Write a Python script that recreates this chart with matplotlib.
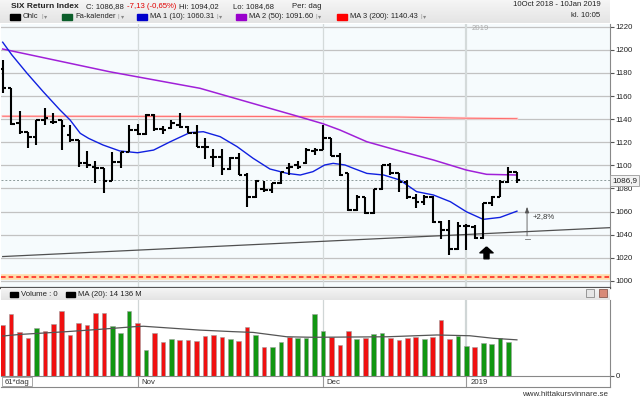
import numpy as np
import matplotlib
matplotlib.use('Agg')
import matplotlib.pyplot as plt
from matplotlib.colors import LinearSegmentedColormap
from matplotlib.patches import Rectangle
from matplotlib.path import Path

plt.rcParams['font.family'] = ['Liberation Sans', 'DejaVu Sans']

# Daily OHLC, 10 Oct 2018 - 10 Jan 2019 (bar index 0..61)
opens = [1183.0, 1166.6, 1136.3, 1128.5, 1124.8, 1139.2, 1137.8, 1139.2, 1126.2, 1121.9,
         1101.7, 1098.8, 1097.4, 1086.4, 1102.6, 1111.8, 1130.6, 1126.8, 1143.5, 1131.4,
         1132.0, 1134.9, 1133.5, 1128.3, 1116.2, 1107.5, 1106.9, 1096.5, 1106.1, 1091.6,
         1072.3, 1079.2, 1078.6, 1084.4, 1097.4, 1100.3, 1101.7, 1112.7, 1113.3, 1123.4,
         1108.1, 1093.0, 1061.3, 1072.3, 1058.4, 1079.2, 1100.3, 1093.0, 1085.8, 1071.4,
         1068.5, 1072.8, 1051.2, 1044.0, 1027.2, 1047.4, 1046.9, 1036.8, 1067.1, 1072.8,
         1085.6, 1094.0]
highs = [1191.2, 1166.9, 1147.0, 1129.1, 1139.2, 1149.3, 1145.0, 1139.5, 1134.9, 1122.2,
         1112.4, 1103.7, 1097.6, 1111.8, 1111.8, 1134.9, 1135.5, 1144.1, 1144.1, 1134.3,
         1139.2, 1145.0, 1134.0, 1134.9, 1123.4, 1113.8, 1113.8, 1107.5, 1111.0, 1093.1,
         1087.3, 1086.7, 1085.0, 1094.5, 1102.3, 1104.0, 1114.7, 1114.7, 1134.9, 1123.6,
         1110.4, 1093.2, 1074.3, 1072.8, 1079.2, 1100.3, 1102.3, 1093.6, 1087.3, 1075.0,
         1074.3, 1073.4, 1051.4, 1052.6, 1051.2, 1048.8, 1048.3, 1067.8, 1073.4, 1087.5,
         1098.8, 1094.0]
lows = [1162.3, 1134.9, 1127.1, 1115.3, 1117.6, 1134.9, 1135.5, 1113.2, 1119.9, 1098.8,
        1097.4, 1084.4, 1075.7, 1086.2, 1097.4, 1111.2, 1126.2, 1126.5, 1129.7, 1126.8,
        1131.4, 1132.0, 1127.7, 1115.6, 1105.2, 1098.8, 1091.6, 1096.2, 1091.6, 1064.2,
        1071.4, 1077.2, 1075.8, 1084.2, 1091.6, 1096.5, 1101.5, 1108.9, 1113.1, 1108.1,
        1090.8, 1060.7, 1060.7, 1057.8, 1058.2, 1078.6, 1091.6, 1077.2, 1071.0, 1062.8,
        1065.6, 1049.7, 1036.0, 1022.3, 1026.7, 1026.7, 1035.9, 1036.6, 1065.0, 1072.6,
        1084.4, 1084.7]
closes = [1166.6, 1135.8, 1128.5, 1124.8, 1139.2, 1140.7, 1137.8, 1134.0, 1121.9, 1101.7,
          1100.3, 1097.4, 1086.4, 1102.6, 1111.8, 1130.6, 1126.8, 1143.5, 1131.4, 1131.0,
          1136.4, 1133.5, 1128.3, 1116.2, 1115.6, 1106.9, 1096.5, 1106.1, 1091.8, 1072.3,
          1086.7, 1078.6, 1084.4, 1093.9, 1098.3, 1098.8, 1113.3, 1113.3, 1123.4, 1108.3,
          1091.6, 1061.3, 1072.3, 1058.4, 1079.2, 1100.3, 1093.0, 1085.8, 1072.8, 1068.5,
          1072.8, 1051.2, 1044.0, 1027.2, 1047.4, 1047.8, 1036.8, 1067.1, 1072.8, 1085.6,
          1094.0, 1086.9]

# volume in M, last day not reported yet
volume = [19900, 24100, 17000, 14700, 18600, 17700, 20200, 25500, 16100, 20600,
          19900, 24500, 24700, 19500, 16900, 25500, 20600, 10100, 16700, 13400,
          14300, 14000, 13900, 13700, 15600, 16100, 15300, 14500, 13700, 19000,
          15900, 11400, 11200, 13300, 15300, 14700, 14700, 24200, 17700, 15300,
          12000, 17400, 14300, 14700, 16400, 16900, 14700, 14000, 14700, 15300,
          14300, 15200, 21800, 14300, 15600, 11700, 11400, 12800, 12500, 14700,
          13400, 0]
vol_up = 'rrrrgrrrrrrrrgggrgrrgrrrrrrgrrgrggrggggrrrgrggrrrrgrrrggrgggg'

# moving averages (bar index, value)
ma10_x = [0, 1.1, 2.9, 4.8, 6.8, 8.0, 9.2, 10.2, 11.9, 13.9, 16.0, 17.9, 19.9, 22.2, 23.8,
          25.8, 27.8, 29.7, 31.7, 33.7, 35.3, 36.8, 38.2, 39.2, 40.6, 41.6, 43.2, 45.2,
          47.1, 49.1, 51.1, 53.1, 55.0, 57.0, 59.0, 61.0]
ma10_y = [1206.6, 1195.5, 1179.6, 1163.8, 1147.9, 1139.2, 1127.7, 1123.3, 1117.6, 1112.4,
          1110.9, 1113.2, 1120.5, 1128.3, 1129.1, 1124.8, 1116.2, 1106.1, 1096.8, 1093.1,
          1091.6, 1094.5, 1100.3, 1101.7, 1100.3, 1097.4, 1093.0, 1091.6, 1087.3, 1077.2,
          1074.3, 1068.5, 1059.8, 1053.2, 1054.9, 1060.3]
ma50_x = [0, 12.7, 23.4, 32.1, 34.5, 38.0, 40.0, 43.2, 47.1, 51.1, 55.0, 57.4, 61.0]
ma50_y = [1200.7, 1181.0, 1166.7, 1148.5, 1143.5, 1136.0, 1130.6, 1120.4, 1112.4, 1104.6,
          1095.9, 1092.2, 1091.6]
ma200_x = [0, 30, 47, 55, 61]
ma200_y = [1142.5, 1142.3, 1141.8, 1140.8, 1140.4]
vma_x = [0, 2.0, 7.6, 11.5, 15.5, 16.7, 23.4, 27.3, 29.7, 33.7, 36.8, 45.6, 51.5, 55.4, 58.2, 61.0]
vma_y = [15600, 16200, 17300, 18200, 19200, 19400, 17900, 17300, 17000, 15300, 15100, 15300,
         16000, 15700, 14700, 14100]

trend_x = [0, 72]
trend_y = [1021.0, 1046.0]

month_idx = [16, 38, 55]
month_labels = ['Nov', 'Dec', '2019']

idx = np.arange(len(closes))
W, H = 640.0, 398.0
XL = (-0.2, 72.04)


def box(x0, y0, x1, y1):
    return [x0 / W, 1 - y1 / H, (x1 - x0) / W, (y1 - y0) / H]


fig = plt.figure(figsize=(6.4, 3.98), dpi=100)
fig.patch.set_facecolor('white')
FS = 5.6

# ---- header ----
hax = fig.add_axes(box(0, 0, 610, 23.5))
grad = LinearSegmentedColormap.from_list('g', ['#f6f6f6', '#e4e4e4'])
hax.imshow(np.linspace(0, 1, 50)[:, None], cmap=grad, aspect='auto', extent=[0, 610, 23.5, 0])
hax.set_xlim(0, 610)
hax.set_ylim(23.5, 0)
hax.axis('off')
hax.text(11, 6.5, 'SIX Return Index', fontsize=6.0, fontweight='bold', va='center', color='#222')
hax.text(86, 6.5, 'C: 1086,88', fontsize=FS, va='center', color='#222')
hax.text(127, 6.5, '-7,13 (-0,65%)', fontsize=FS, va='center', color='#e00000')
hax.text(179, 6.5, 'Hi: 1094,02', fontsize=FS, va='center', color='#222')
hax.text(233, 6.5, 'Lo: 1084,68', fontsize=FS, va='center', color='#222')
hax.text(292, 6.5, 'Per: dag', fontsize=FS, va='center', color='#222')
hax.text(601, 5, '10Oct 2018 - 10Jan 2019', fontsize=FS, va='center', ha='right', color='#222')
hax.text(600, 15.5, 'kl. 10:05', fontsize=FS, va='center', ha='right', color='#222')

renderer = fig.canvas.get_renderer()
inv = hax.transData.inverted()
legend_items = [(10, 'black', 'Ohlc'), (62, '#0b5e2a', 'Fa-kalender'),
                (137, '#0000cc', 'MA 1 (10): 1060.31'), (236, '#9900cc', 'MA 2 (50): 1091.60'),
                (337, '#ff0000', 'MA 3 (200): 1140.43')]
for sx, col, lab in legend_items:
    hax.add_patch(Rectangle((sx, 14), 10, 5.5, color=col))
    t = hax.text(sx + 13, 16.7, lab, fontsize=5.4, va='center', color='#222')
    x1 = inv.transform(t.get_window_extent(renderer).get_points())[1][0]
    hax.text(x1 + 2.5, 16.5, '|', fontsize=4.5, va='center', color='#999')
    hax.text(x1 + 5, 16.8, '\u25be', fontsize=4.5, va='center', color='#888', family='DejaVu Sans')

# ---- main price panel ----
ax = fig.add_axes(box(1, 23.5, 610, 287.5))
ax.set_facecolor('#f6fbfd')
ax.set_xlim(*XL)
ax.set_ylim(994.2, 1222.8)
ax.set_yticks(range(1000, 1221, 20))
ax.yaxis.tick_right()
ax.tick_params(axis='y', length=3, pad=1, labelsize=FS, colors='#555', labelcolor='#222')
ax.set_xticks([])
ax.yaxis.grid(True, color='#c2c2c2', lw=0.9)
ax.set_axisbelow(True)
for s in ['top', 'left']:
    ax.spines[s].set_visible(False)
ax.spines['right'].set_color('#888')
ax.spines['bottom'].set_color('#555')
ax.spines['bottom'].set_linewidth(1.6)

for m in month_idx:
    ax.axvline(m, color='#d4dada', lw=1.6 if m == 55 else 0.9, zorder=1)
ax.text(55.6, 1218.5, '2019', fontsize=FS, color='#aaaaaa', va='center')

ax.axhline(1003.6, color='#ffdcaa', lw=4, zorder=2)
ax.axhline(1003.6, color='#ff1a1a', lw=1.1, dashes=(3, 2), zorder=3)
ax.axhline(closes[-1], color='#8c9a9a', lw=0.7, dashes=(2, 2), zorder=2)

ax.plot(trend_x, trend_y, color='#505050', lw=0.9, zorder=3)
ax.plot(ma200_x, ma200_y, color='#ffd2d2', lw=1.8, zorder=3)
ax.plot(ma200_x, ma200_y, color='#ff6a6a', lw=0.7, zorder=3)
ax.plot(ma50_x, ma50_y, color='#a020d8', lw=1.1, zorder=4)
ax.plot(ma10_x, ma10_y, color='#1020e0', lw=1.0, zorder=4)

ax.vlines(idx, lows, highs, color='black', lw=1.5, zorder=5)
ax.hlines(opens, idx - 0.42, idx, color='black', lw=1.5, zorder=5)
ax.hlines(closes, idx, idx + 0.42, color='black', lw=1.5, zorder=5)

arrow = Path([(0, 1), (1, 0.1), (0.38, 0.1), (0.38, -0.8), (-0.38, -0.8), (-0.38, 0.1), (-1, 0.1), (0, 1)])
ax.plot([57.3], [1024.3], marker=arrow, ms=9.5, color='black', zorder=6)

ax.annotate('', xy=(62.2, 1066.5), xytext=(62.2, 1036.5),
            arrowprops=dict(arrowstyle='-|>,head_width=0.12,head_length=0.35', color='#555', lw=0.6))
ax.plot([61.9, 62.5], [1036.5, 1036.5], color='#777', lw=0.6)
ax.text(62.9, 1056, '+2,8%', fontsize=FS, color='#333', va='center')

ax.annotate('1086,9', xy=(1, closes[-1]), xycoords=('axes fraction', 'data'), xytext=(1.5, 0),
            textcoords='offset points', va='center', ha='left', fontsize=5.9, color='#222',
            bbox=dict(boxstyle='square,pad=0.25', fc='#f2f2f2', ec='#9a9a9a', lw=0.6), zorder=10,
            annotation_clip=False)

# ---- volume header ----
vh = fig.add_axes(box(1, 287.5, 610, 300))
vh.imshow(np.linspace(0, 1, 30)[:, None], cmap=grad, aspect='auto', extent=[1, 610, 300, 287.5])
vh.set_xlim(1, 610)
vh.set_ylim(300, 287.5)
vh.axis('off')
vh.add_patch(Rectangle((9.5, 292), 8.5, 5, color='black'))
vh.text(21, 294.5, 'Volume : 0', fontsize=FS, va='center', color='#222')
vh.add_patch(Rectangle((66, 292), 8.5, 5, color='black'))
vh.text(77.5, 294.5, 'MA (20): 14 136 M', fontsize=FS, va='center', color='#222')
vh.add_patch(Rectangle((585.5, 289), 8, 8, fc='#e6e6e6', ec='#8a8a8a', lw=0.6))
vh.add_patch(Rectangle((598.5, 289), 8, 8, fc='#d88a78', ec='#8a5a50', lw=0.6))

# ---- volume panel ----
vax = fig.add_axes(box(1, 300, 610, 376))
vax.set_facecolor('white')
vax.set_xlim(*XL)
vax.set_ylim(0, 29640)
cols = ['#119611' if c == 'g' else '#f01010' for c in vol_up]
vax.bar(idx, volume, width=0.55, color=cols, edgecolor='#a0a0a0', lw=0.4, zorder=3)
vax.plot(vma_x, vma_y, color='#555', lw=0.9, zorder=4)
for m in month_idx:
    vax.axvline(m, color='#d0d6d6', lw=1.6 if m == 55 else 0.9, zorder=1)
vax.set_xticks([])
vax.yaxis.tick_right()
vax.set_yticks([0])
vax.tick_params(axis='y', length=3, pad=1, labelsize=FS, colors='#555', labelcolor='#222')
for s in ['top', 'left', 'bottom']:
    vax.spines[s].set_visible(False)
vax.spines['right'].set_color('#888')

# ---- date strip ----
dax = fig.add_axes(box(1, 376, 610, 387))
dax.set_xlim(*XL)
dax.set_ylim(0, 1)
dax.set_xticks([])
dax.set_yticks([])
dax.spines['left'].set_visible(False)
for s in ['top', 'bottom', 'right']:
    dax.spines[s].set_color('#888')
for m, lab in zip(month_idx, month_labels):
    dax.axvline(m, color='#999', lw=0.8)
    dax.text(m + 0.45, 0.45, lab, fontsize=FS, va='center', color='#333')
dax.add_patch(Rectangle((-0.05, 0.05), 3.5, 0.9, fc='white', ec='#999', lw=0.6))
dax.text(0.2, 0.45, '61*dag', fontsize=FS, va='center', color='#333')

fig.text(608 / W, 1 - 395 / H, 'www.hittakursvinnare.se', fontsize=5.8, ha='right', va='center', color='#333')

fig.savefig('out.png', dpi=100)
